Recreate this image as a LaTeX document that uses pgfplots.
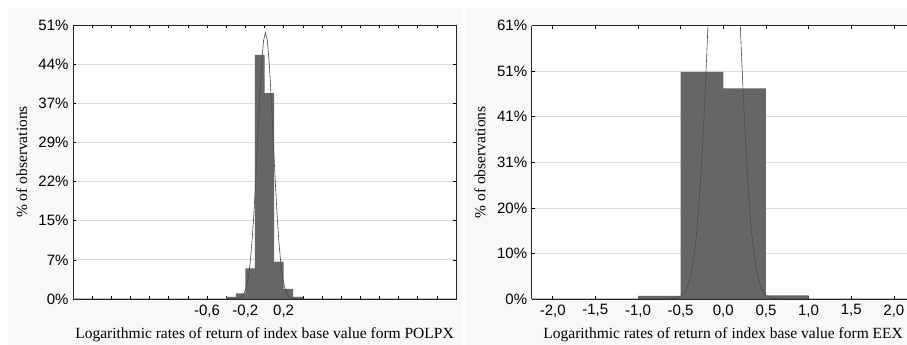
\documentclass[border=0pt]{standalone}
\usepackage{pgfplots}
\pgfplotsset{compat=1.18}
\usepackage{fontspec}
\setmainfont{Liberation Serif}
\newfontfamily\arial{Liberation Sans}
\definecolor{panel}{HTML}{F8F8F8}
\definecolor{barc}{HTML}{666666}
\definecolor{curvec}{HTML}{4A4A4A}
\definecolor{gridc}{HTML}{DCDCDC}
\pgfplotsset{common/.style={
  scale only axis, anchor=south west,
  axis background/.style={fill=white},
  tick align=inside, major tick length=3pt,
  ymajorgrids, grid style={gridc, line width=0.8pt},
  axis line style={black!85, line width=0.9pt},
  tick style={black, line width=0.6pt},
  tick label style={font=\arial\fontsize{15}{17}\selectfont},
  label style={font=\fontsize{15.5}{17}\selectfont},
  ylabel={\% of observations},
  xticklabel style={yshift=-2pt},
  yticklabel style={xshift=-1pt},
}}
\begin{document}
\begin{tikzpicture}
\fill[white] (0pt,0pt) rectangle (907pt,345pt);
\fill[panel] (8pt,0pt) rectangle (461.7pt,337pt);
\fill[panel] (465.7pt,0pt) rectangle (907pt,337pt);
% ---------- left: POLPX ----------
\begin{axis}[common,
  at={(73pt,46pt)}, width=383pt, height=274pt,
  xmin=-2, xmax=2, ymin=0, ymax=51.4,
  xtick={-2,-1.8,-1.6,-1.4,-1.2,-1,-0.8,-0.6,-0.4,-0.2,0,0.2,0.4,0.6,0.8,1,1.2,1.4,1.6,1.8,2},
  xticklabels={,,,,,,,{-0,6},,{-0,2},,{0,2},,,,,,,,,},
  ytick={0,7.343,14.686,22.029,29.371,36.714,44.057,51.4},
  yticklabels={0\%,7\%,15\%,22\%,29\%,37\%,44\%,51\%},
  xlabel={Logarithmic rates of return of index base value form POLPX},
  xlabel style={at={(axis description cs:0.5,-0.131)}, anchor=center},
  ylabel style={at={(axis description cs:-0.134,0.5)}, anchor=center},
]
\addplot[ybar interval, fill=barc, draw=none] coordinates {
 (-0.4,0.4) (-0.3,1.07) (-0.2,5.76) (-0.1,45.8) (0,38.6) (0.1,7.0) (0.2,1.9) (0.3,0.4) (0.4,0.4)};
\addplot[curvec, line width=0.6pt] coordinates {
 (-2,0) (-0.5,0) (-0.33,0.006) (-0.29,0.044) (-0.27,0.109) (-0.25,0.254) (-0.23,0.555)
 (-0.21,1.14) (-0.19,2.20) (-0.17,3.98) (-0.15,6.77) (-0.13,10.81) (-0.11,16.23)
 (-0.09,22.89) (-0.07,30.33) (-0.05,37.74) (-0.03,44.12) (-0.01,48.46) (0.01,50)
 (0.03,48.46) (0.05,44.12) (0.07,37.74) (0.09,30.33) (0.11,22.89) (0.13,16.23)
 (0.15,10.81) (0.17,6.77) (0.19,3.98) (0.21,2.20) (0.23,1.14) (0.25,0.555)
 (0.27,0.254) (0.29,0.109) (0.31,0.044) (0.35,0.006) (0.5,0) (2,0)};
\end{axis}
% ---------- right: EEX ----------
\begin{axis}[common,
  at={(531.7pt,46pt)}, width=375.3pt, height=273.3pt,
  xmin=-2.246, xmax=2.154, ymin=0, ymax=61,
  axis y line*=left,
  xtick={-2,-1.5,-1,-0.5,0,0.5,1,1.5,2},
  xticklabels={{-2,0},{-1,5},{-1,0},{-0,5},{0,0},{0,5},{1,0},{1,5},{2,0}},
  ytick={0,10.167,20.333,30.5,40.667,50.833,61},
  yticklabels={0\%,10\%,20\%,31\%,41\%,51\%,61\%},
  xlabel={Logarithmic rates of return of index base value form EEX},
  xlabel style={at={(axis description cs:0.51,-0.132)}, anchor=center},
  ylabel style={at={(axis description cs:-0.138,0.5)}, anchor=center},
]
\addplot[ybar interval, fill=barc, draw=none] coordinates {
 (-1,0.67) (-0.5,50.7) (0,47.0) (0.5,0.8) (1,0.8)};
\addplot[curvec, line width=0.6pt] coordinates {
 (-2.246,0) (-0.69,0) (-0.59,0.073) (-0.54,0.24) (-0.49,0.71) (-0.465,1.18) (-0.44,1.91)
 (-0.415,3.02) (-0.39,4.63) (-0.365,6.93) (-0.34,10.1) (-0.315,14.3) (-0.29,19.9)
 (-0.265,26.9) (-0.24,35.2) (-0.215,45.1) (-0.19,56.2) (-0.165,68.2) (-0.14,80.8)
 (-0.115,93.2) (-0.09,104.8) (-0.065,114.8) (-0.04,122.5) (-0.015,127.3) (0.01,129)
 (0.035,127.3) (0.06,122.5) (0.085,114.8) (0.11,104.8) (0.135,93.2) (0.16,80.8)
 (0.185,68.2) (0.21,56.2) (0.235,45.1) (0.26,35.2) (0.285,26.9) (0.31,19.9)
 (0.335,14.3) (0.36,10.1) (0.385,6.93) (0.41,4.63) (0.435,3.02) (0.46,1.91)
 (0.485,1.18) (0.51,0.71) (0.56,0.24) (0.61,0.073) (0.71,0) (2.154,0)};
\end{axis}
\pgfresetboundingbox
\useasboundingbox (0pt,0pt) rectangle (907pt,345pt);
\end{tikzpicture}
\end{document}
